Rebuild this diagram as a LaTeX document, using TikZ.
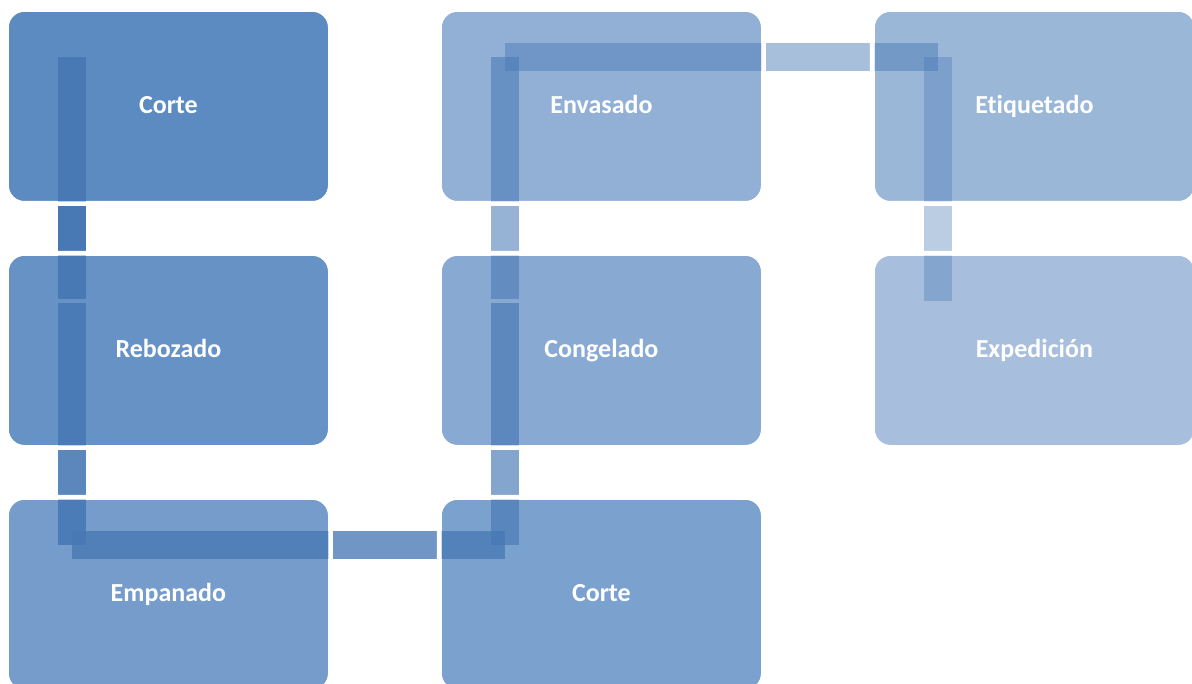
\documentclass[tikz,border=0pt]{standalone}
\usepackage{fontspec}
\setmainfont[Ligatures=NoCommon]{Carlito}
\usetikzlibrary{calc}

% stage fills, darkest first
\definecolor{stageA}{RGB}{92,139,193}
\definecolor{stageB}{RGB}{102,146,197}
\definecolor{stageC}{RGB}{117,156,202}
\definecolor{stageD}{RGB}{123,161,206}
\definecolor{stageE}{RGB}{136,169,209}
\definecolor{stageF}{RGB}{146,176,214}
\definecolor{stageG}{RGB}{155,183,216}
\definecolor{stageH}{RGB}{167,191,221}
% flow bar colour
\definecolor{barblue}{RGB}{72,121,181}

\begin{document}
\begin{tikzpicture}[x=0.75pt,y=-0.75pt,
  stage/.style={draw=white, line width=0.6pt, rounded corners=12pt,
    minimum width=240pt, minimum height=142.5pt, anchor=north west,
    inner sep=0pt, text=white, text height=14pt, text depth=3.5pt,
    font=\bfseries\fontsize{19.5}{23.4}\selectfont},
  link/.style={draw=barblue, line width=21pt, line cap=butt},
  halo/.style={draw=white, line width=3.4pt, rounded corners=13.3pt}]

\useasboundingbox (0,0) rectangle (1192,684);
\clip (0,0) rectangle (1192,684);
\fill[white] (0,0) rectangle (1192,684);

% process stages
\node[stage, fill=stageA] (corte1)     at (8,11)    {Corte};
\node[stage, fill=stageB] (rebozado)   at (8,255)   {Rebozado};
\node[stage, fill=stageC] (empanado)   at (8,499)   {Empanado};
\node[stage, fill=stageD] (corte2)     at (441,499) {Corte};
\node[stage, fill=stageE] (congelado)  at (441,255) {Congelado};
\node[stage, fill=stageF] (envasado)   at (441,11)  {Envasado};
\node[stage, fill=stageG] (etiquetado) at (874,11)  {Etiquetado};
\node[stage, fill=stageH] (expedicion) at (874,255) {Expedición};

% bend points of the flow bar, one per stage
\foreach \s/\p in {corte1/p1, rebozado/p2, empanado/p3, corte2/p4,
                   congelado/p5, envasado/p6, etiquetado/p7, expedicion/p8}
  \coordinate (\p) at ($(\s.north west)+(63.5,46)$);

% flow bars, fading along the process
\draw[link, draw opacity=1.00, shorten >=1.5pt] (p1) -- (p2);
\draw[link, draw opacity=0.89, shorten <=1.5pt] (p2) -- (p3);
\draw[link, draw opacity=0.78] (p3) -- (p4);
\draw[link, draw opacity=0.67, shorten >=1.5pt] (p4) -- (p5);
\draw[link, draw opacity=0.57, shorten <=1.5pt] (p5) -- (p6);
\draw[link, draw opacity=0.47] (p6) -- (p7);
\draw[link, draw opacity=0.37] (p7) -- (p8);

% white rims around the stages
\foreach \s in {corte1, rebozado, empanado, corte2, congelado,
                envasado, etiquetado, expedicion}
  \draw[halo] ($(\s.north west)+(-1.75,-1.75)$) rectangle ($(\s.south east)+(1.75,1.75)$);
\end{tikzpicture}
\end{document}
